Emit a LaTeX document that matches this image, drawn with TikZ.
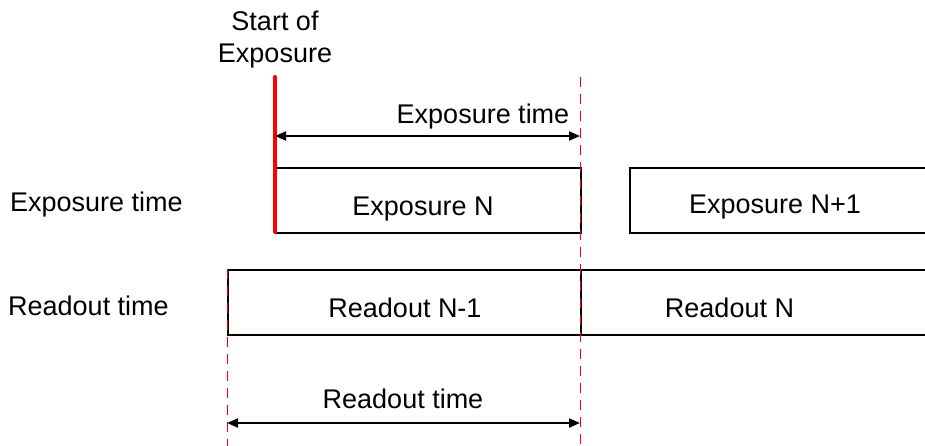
\documentclass[tikz,border=0pt]{standalone}
\usepackage{fontspec}
\setmainfont{Liberation Sans}
\usetikzlibrary{arrows.meta}
\begin{document}
\begin{tikzpicture}[x=1pt,y=-1pt,
  lbl/.style={font=\fontsize{27}{32}\selectfont, inner sep=0pt, anchor=base},
  lbllt/.style={lbl, anchor=base west},
  tbox/.style={draw=black, line width=2pt, inner sep=0pt, anchor=north west, minimum height=65pt},
  dimarrow/.style={black, line width=2pt, {Triangle[length=11pt,width=9pt]}-{Triangle[length=11pt,width=9pt]}},
  redmark/.style={draw=red, line width=4pt, line cap=round},
  reddash/.style={draw=red, line width=1pt, dash pattern=on 10pt off 7pt}]
\useasboundingbox (0,0) rectangle (925,446);
\clip (0,0) rectangle (925,446);
\fill[white] (0,0) rectangle (925,446);
% boxes (the two on the right run past the picture's edge)
\node[tbox, minimum width=305pt] (expN) at (275,167) {};
\node[tbox, minimum width=420pt] (expN1) at (629,167) {};
\node[tbox, minimum width=353pt] (roN1) at (227,269) {};
\node[tbox, minimum width=420pt] (roN) at (580,269) {};
% coordinates
\coordinate (s1) at (275,77);
\coordinate (s2) at (275,232);
\coordinate (eL) at (275,136);
\coordinate (eR) at (580,136);
\coordinate (rL) at (227,423);
\coordinate (rR) at (580,423);
\coordinate (d1t) at (580,77);
\coordinate (d1b) at (580,446);
\coordinate (d2t) at (227,269);
\coordinate (d2b) at (227,446);
% dashed markers
\draw[reddash] (d1t) -- (d1b);
\draw[reddash] (d2t) -- (d2b);
% start of exposure
\draw[redmark] (s1) -- (s2);
% dimension arrows
\draw[dimarrow] (eL) -- (eR);
\draw[dimarrow] (rL) -- (rR);
% labels
\node[lbl] (start1) at (275,31) {Start of};
\node[lbl] (start2) at (275,63) {Exposure};
\node[lbl] (etop) at (483,124) {Exposure time};
\node[lbl] (eN) at (423,215) {Exposure N};
\node[lbl] (eN1) at (775,214) {Exposure N+1};
\node[lbl] (rN1) at (405,317) {Readout N-1};
\node[lbl] (rN) at (729.5,317) {Readout N};
\node[lbl] (rbot) at (403,408) {Readout time};
\node[lbllt] (lexp) at (10,212) {Exposure time};
\node[lbllt] (lro) at (8,315) {Readout time};
\end{tikzpicture}
\end{document}
